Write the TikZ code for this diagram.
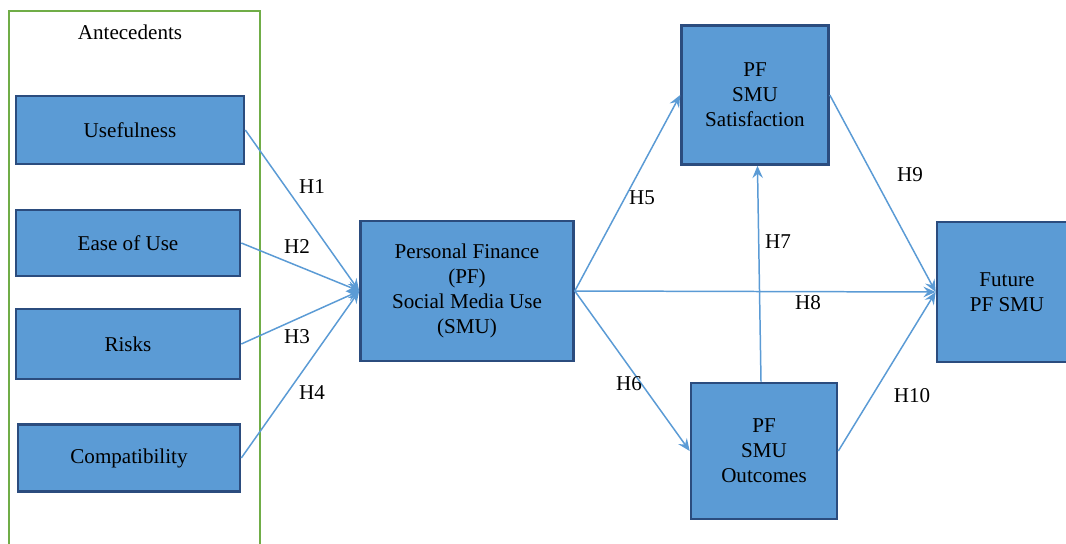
\documentclass[tikz,border=0pt]{standalone}
\usepackage{fontspec}
\setmainfont{Liberation Serif}
\usetikzlibrary{arrows.meta}
\definecolor{boxfill}{HTML}{5B9BD5}
\definecolor{boxline}{HTML}{2B4C7E}
\definecolor{linkline}{HTML}{5B9BD5}
\definecolor{groupline}{HTML}{70AD47}
\begin{document}
\begin{tikzpicture}[x=0.02cm,y=-0.02cm,
    every node/.style={font=\fontsize{12}{14.2}\selectfont},
    construct/.style={draw=boxline,fill=boxfill,line width=1.5pt,align=center,inner sep=0pt},
    hyparrow/.style={draw=linkline,line width=0.85pt,-{Stealth[length=7pt,width=6pt,inset=2.5pt]}},
    hyplabel/.style={inner sep=0pt}]
    \useasboundingbox (0,0) rectangle (1066,544);
    % antecedents group
    \draw [groupline,line width=1.7pt] (9,11) rectangle (260,570);
    \node (ante) at (130,32) {Antecedents};
    \node [construct,minimum width=4.56cm,minimum height=1.36cm] (use) at (130,130) {Usefulness};
    \node [construct,minimum width=4.48cm,minimum height=1.32cm] (ease) at (128,243) {Ease of Use};
    \node [construct,minimum width=4.48cm,minimum height=1.40cm] (risk) at (128,344) {Risks};
    \node [construct,minimum width=4.44cm,minimum height=1.34cm] (comp) at (129,458) {Compatibility};
    % central and outcome constructs
    \node [construct,minimum width=4.26cm,minimum height=2.8cm] (pf) at (467,291)
        {Personal Finance\\(PF)\\Social Media Use\\(SMU)};
    \node [construct,minimum width=2.94cm,minimum height=2.78cm] (sat) at (755,95)
        {PF\\SMU\\Satisfaction};
    \node [construct,minimum width=2.92cm,minimum height=2.72cm] (outc) at (764,451)
        {PF\\SMU\\Outcomes};
    \node [construct,minimum width=2.8cm,minimum height=2.8cm] (fut) at (1007,292)
        {Future\\PF SMU};
    % hypotheses
    \draw [hyparrow] (use.east) -- (pf.west);
    \draw [hyparrow] (ease.east) -- (pf.west);
    \draw [hyparrow] (risk.east) -- (pf.west);
    \draw [hyparrow] (comp.east) -- (pf.west);
    \draw [hyparrow] (pf.east) -- (sat.west);
    \draw [hyparrow] (pf.east) -- (outc.west);
    \draw [hyparrow] ([xshift=-1.7pt]outc.north) -- ([xshift=1.4pt]sat.south);
    \draw [hyparrow] (pf.east) -- (fut.west);
    \draw [hyparrow] (sat.east) -- (fut.west);
    \draw [hyparrow] (outc.east) -- (fut.west);
    \node [hyplabel] (h1) at (312,187) {H1};
    \node [hyplabel] (h2) at (297,247) {H2};
    \node [hyplabel] (h3) at (297,337) {H3};
    \node [hyplabel] (h4) at (312,393) {H4};
    \node [hyplabel] (h5) at (642,198) {H5};
    \node [hyplabel] (h6) at (629,384) {H6};
    \node [hyplabel] (h7) at (778,242) {H7};
    \node [hyplabel] (h8) at (808,303) {H8};
    \node [hyplabel] (h9) at (910,175) {H9};
    \node [hyplabel] (h10) at (912,396) {H10};
\end{tikzpicture}
\end{document}
